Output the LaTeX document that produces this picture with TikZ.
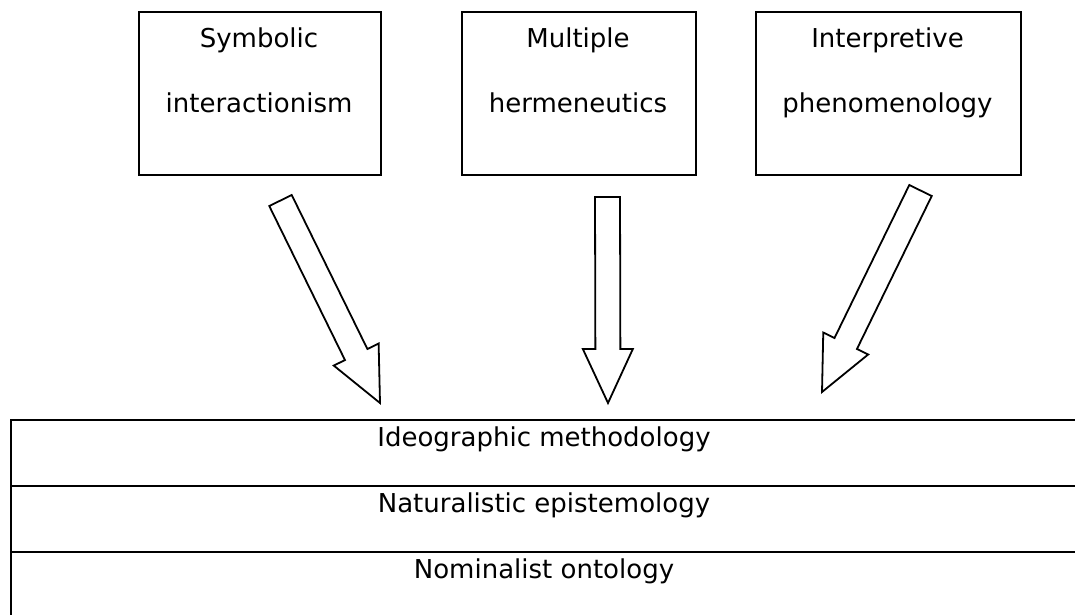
\documentclass[tikz,border=0pt]{standalone}
\usepackage{fontspec}
\setmainfont{DejaVu Sans}
\usetikzlibrary{calc}

\tikzset{
  topbox/.style={draw=black, line width=2.3pt, rectangle, inner sep=0pt, anchor=north west},
  rowbox/.style={draw=black, line width=2.3pt, rectangle, inner sep=0pt, anchor=north west,
                 minimum width=1072pt, minimum height=66pt},
  label/.style={anchor=base, inner sep=0pt, font=\fontsize{26}{30}\selectfont},
  arrowoutline/.style={draw=black, line width=1.8pt, fill=white, line join=miter},
}

% hollow block arrow from coordinate #1 (tail centre) to coordinate #2 (tip)
\newcommand\blockarrow[2]{%
  \coordinate (#1-hb) at ($(#2)!54pt!(#1)$);
  \draw[arrowoutline]
    ($(#1)!12.5pt!90:(#2)$) --
    ($(#1-hb)!12.5pt!90:(#2)$) --
    ($(#1-hb)!25pt!90:(#2)$) --
    (#2) --
    ($(#1-hb)!25pt!-90:(#2)$) --
    ($(#1-hb)!12.5pt!-90:(#2)$) --
    ($(#1)!12.5pt!-90:(#2)$) -- cycle;}

\begin{document}
\begin{tikzpicture}[x=1pt, y=-1pt]
  \clip (0,0) rectangle (1075,614);
  \fill[white] (0,0) rectangle (1075,614);

  % three source boxes
  \node[topbox, minimum width=242pt, minimum height=163pt] (sym) at (138,11) {};
  \node[topbox, minimum width=234pt, minimum height=163pt] (herm) at (461,11) {};
  \node[topbox, minimum width=265pt, minimum height=163pt] (phen) at (755,11) {};

  \node[label] (sym1) at (259,47) {Symbolic};
  \node[label] (sym2) at (259,112) {interactionism};
  \node[label] (herm1) at (578,47) {Multiple};
  \node[label] (herm2) at (578,112) {hermeneutics};
  \node[label] (phen1) at (887.5,47) {Interpretive};
  \node[label] (phen2) at (887.5,112) {phenomenology};

  % layered base
  \node[rowbox] (meth) at (10,419) {};
  \node[rowbox] (epis) at (10,485) {};
  \node[rowbox, minimum height=80pt] (onto) at (10,551) {};

  \node[label] (methT) at (544,446) {Ideographic methodology};
  \node[label] (episT) at (544,512) {Naturalistic epistemology};
  \node[label] (ontoT) at (544,578) {Nominalist ontology};

  % arrows from the boxes down to the base
  \coordinate (a1) at (280.5,200.5);
  \coordinate (a1tip) at (380,403);
  \coordinate (a2) at (607.5,197);
  \coordinate (a2tip) at (608,403);
  \coordinate (a3) at (920.5,190.5);
  \coordinate (a3tip) at (822,392);
  \blockarrow{a1}{a1tip}
  \blockarrow{a2}{a2tip}
  \blockarrow{a3}{a3tip}
\end{tikzpicture}
\end{document}
